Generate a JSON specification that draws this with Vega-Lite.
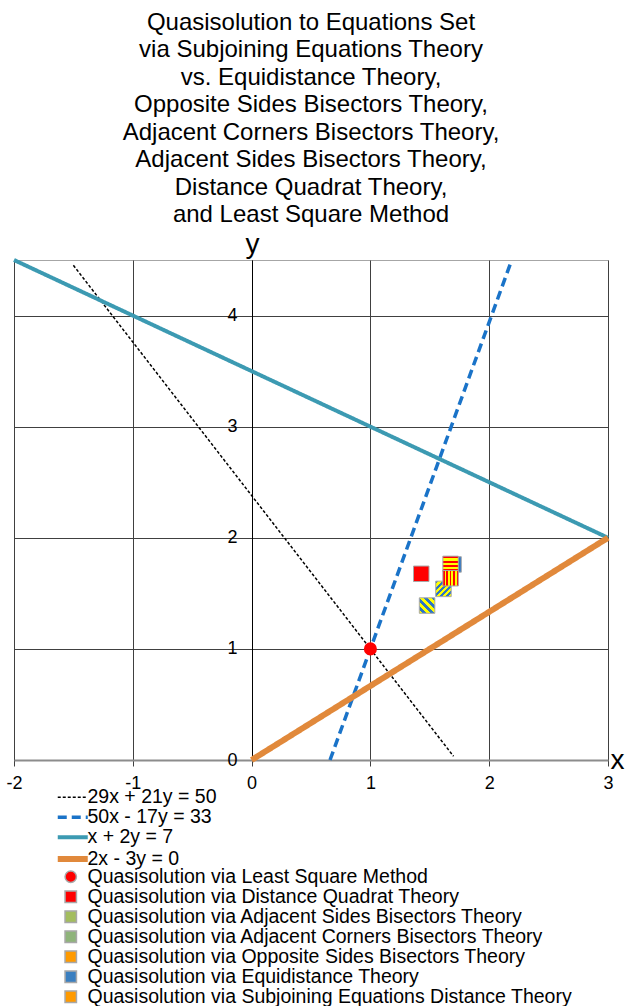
{
  "$schema": "https://vega.github.io/schema/vega-lite/v6.json",
  "width": 594,
  "height": 500,
  "autosize": {"type": "none"},
  "padding": {"left": 14, "top": 260, "right": 22, "bottom": 246},
  "background": "white",
  "title": {
    "text": ["Quasisolution to Equations Set", "via Subjoining Equations Theory", "vs. Equidistance Theory,", "Opposite Sides Bisectors Theory,", "Adjacent Corners Bisectors Theory,", "Adjacent Sides Bisectors Theory,", "Distance Quadrat Theory,", "and Least Square Method"],
    "fontSize": 24,
    "font": "Liberation Sans",
    "fontWeight": "normal",
    "lineHeight": 27.5,
    "anchor": "middle",
    "offset": 3,
    "color": "black"
  },
  "config": {
    "font": "Liberation Sans",
    "view": {"stroke": "#a6a6a6", "strokeWidth": 1},
    "axis": {"labelFont": "Liberation Sans", "titleFont": "Liberation Sans", "labelColor": "black", "titleColor": "black", "gridColor": "#404040", "gridOpacity": 1, "gridWidth": 1, "titleFontWeight": "normal"},
    "legend": {"labelFont": "Liberation Sans", "labelColor": "black", "labelFontSize": 19.5, "padding": 0, "labelLimit": 600}
  },
  "datasets": {
    "lines": [
      {"series": "29x + 21y = 50", "x": -1.5, "y": 4.452},
      {"series": "29x + 21y = 50", "x": 1.7, "y": 0.033},
      {"series": "50x - 17y = 33", "x": 0.66, "y": 0.0},
      {"series": "50x - 17y = 33", "x": 2.19, "y": 4.5},
      {"series": "x + 2y = 7", "x": -2, "y": 4.5},
      {"series": "x + 2y = 7", "x": 3, "y": 2},
      {"series": "2x - 3y = 0", "x": 0, "y": 0},
      {"series": "2x - 3y = 0", "x": 3, "y": 2}
    ],
    "points": [
      {"method": "Quasisolution via Least Square Method", "x": 1.0, "y": 1.0},
      {"method": "Quasisolution via Distance Quadrat Theory", "x": 1.428, "y": 1.676},
      {"method": "Quasisolution via Adjacent Sides Bisectors Theory", "x": 1.477, "y": 1.39},
      {"method": "Quasisolution via Adjacent Corners Bisectors Theory", "x": 1.615, "y": 1.54},
      {"method": "Quasisolution via Equidistance Theory", "x": 1.70, "y": 1.76},
      {"method": "Quasisolution via Subjoining Equations Distance Theory", "x": 1.675, "y": 1.765},
      {"method": "Quasisolution via Opposite Sides Bisectors Theory", "x": 1.675, "y": 1.636}
    ]
  },
  "layer": [
    {
      "data": {"name": "lines"},
      "mark": {"type": "line"},
      "encoding": {
        "x": {
          "field": "x", "type": "quantitative",
          "scale": {"domain": [-2, 3], "nice": false, "zero": false},
          "axis": {"values": [-2, -1, 0, 1, 2, 3], "labelExpr": "'' + datum.value", "title": "x", "titleX": 596, "titleY": 8, "titleAlign": "left", "titleBaseline": "alphabetic", "titleFontSize": 28, "titleAngle": 0, "labelFontSize": 18, "labelPadding": 8, "tickColor": "#404040", "tickSize": 6, "domainColor": "#8c8c8c", "domainWidth": 2, "grid": true, "labelFlush": false}
        },
        "y": {
          "field": "y", "type": "quantitative",
          "scale": {"domain": [0, 4.5], "nice": false, "zero": false},
          "axis": {"values": [0, 1, 2, 3, 4], "labelExpr": "'' + datum.value", "offset": -238, "title": "y", "titleAngle": 0, "titleX": 0, "titleY": -8, "titleAlign": "center", "titleBaseline": "alphabetic", "titleFontSize": 28, "ticks": false, "labelPadding": 15, "labelFontSize": 18, "domainColor": "black", "grid": true, "labelFlush": false}
        },
        "stroke": {
          "field": "series", "type": "nominal",
          "scale": {"domain": ["29x + 21y = 50", "50x - 17y = 33", "x + 2y = 7", "2x - 3y = 0"], "range": ["#000000", "#1a73c8", "#3c9ab2", "#e1893b"]},
          "legend": {"orient": "none", "legendX": 49, "legendY": 527.5, "title": null, "symbolType": "M-3,0H3", "symbolSize": 100, "labelOffset": 5, "rowPadding": -1.3}
        },
        "strokeDash": {
          "field": "series", "type": "nominal",
          "scale": {"domain": ["29x + 21y = 50", "50x - 17y = 33", "x + 2y = 7", "2x - 3y = 0"], "range": [[3, 2], [9, 5], [1, 0], [1, 0]]}
        },
        "strokeWidth": {
          "field": "series", "type": "nominal",
          "scale": {"type": "ordinal", "domain": ["29x + 21y = 50", "50x - 17y = 33", "x + 2y = 7", "2x - 3y = 0"], "range": [1.5, 3.5, 4, 6]}
        }
      }
    },
    {
      "data": {"name": "points"},
      "transform": [{"filter": "datum.method !== 'Quasisolution via Least Square Method'"}],
      "mark": {"type": "point", "filled": true, "opacity": 1, "size": 240, "stroke": "#a8a8a8", "strokeWidth": 1},
      "encoding": {
        "x": {"field": "x", "type": "quantitative"},
        "y": {"field": "y", "type": "quantitative"},
        "fill": {
          "field": "method", "type": "nominal",
          "scale": {
            "domain": ["Quasisolution via Least Square Method", "Quasisolution via Distance Quadrat Theory", "Quasisolution via Adjacent Sides Bisectors Theory", "Quasisolution via Adjacent Corners Bisectors Theory", "Quasisolution via Opposite Sides Bisectors Theory", "Quasisolution via Equidistance Theory", "Quasisolution via Subjoining Equations Distance Theory"],
            "range": ["#ff0000", "#ff0000", "#a3bd5e", "#8fb47a", "#ff9a00", "#3a7fc0", "#ff9a00"]
          },
          "legend": null,
          "condition": [
            {"test": "datum.method === 'Quasisolution via Adjacent Sides Bisectors Theory'", "value": {"gradient": "linear", "x1": 0, "y1": 1, "x2": 1, "y2": 0, "stops": [
                {"offset": 0, "color": "#ffff00"}, {"offset": 0.125, "color": "#ffff00"}, {"offset": 0.125, "color": "#2e75c4"}, {"offset": 0.25, "color": "#2e75c4"},
                {"offset": 0.25, "color": "#ffff00"}, {"offset": 0.375, "color": "#ffff00"}, {"offset": 0.375, "color": "#2e75c4"}, {"offset": 0.5, "color": "#2e75c4"},
                {"offset": 0.5, "color": "#ffff00"}, {"offset": 0.625, "color": "#ffff00"}, {"offset": 0.625, "color": "#2e75c4"}, {"offset": 0.75, "color": "#2e75c4"},
                {"offset": 0.75, "color": "#ffff00"}, {"offset": 0.875, "color": "#ffff00"}, {"offset": 0.875, "color": "#2e75c4"}, {"offset": 1, "color": "#2e75c4"}]}},
            {"test": "datum.method === 'Quasisolution via Adjacent Corners Bisectors Theory'", "value": {"gradient": "linear", "x1": 0, "y1": 0, "x2": 1, "y2": 1, "stops": [
                {"offset": 0, "color": "#2e75c4"}, {"offset": 0.1, "color": "#2e75c4"}, {"offset": 0.1, "color": "#ffff00"}, {"offset": 0.2, "color": "#ffff00"},
                {"offset": 0.2, "color": "#2e75c4"}, {"offset": 0.3, "color": "#2e75c4"}, {"offset": 0.3, "color": "#ffff00"}, {"offset": 0.4, "color": "#ffff00"},
                {"offset": 0.4, "color": "#2e75c4"}, {"offset": 0.5, "color": "#2e75c4"}, {"offset": 0.5, "color": "#ffff00"}, {"offset": 0.6, "color": "#ffff00"},
                {"offset": 0.6, "color": "#2e75c4"}, {"offset": 0.7, "color": "#2e75c4"}, {"offset": 0.7, "color": "#ffff00"}, {"offset": 0.8, "color": "#ffff00"},
                {"offset": 0.8, "color": "#2e75c4"}, {"offset": 0.9, "color": "#2e75c4"}, {"offset": 0.9, "color": "#ffff00"}, {"offset": 1, "color": "#ffff00"}]}},
            {"test": "datum.method === 'Quasisolution via Opposite Sides Bisectors Theory'", "value": {"gradient": "linear", "x1": 0, "y1": 0.5, "x2": 1, "y2": 0.5, "stops": [
                {"offset": 0, "color": "#ff0000"}, {"offset": 0.111, "color": "#ff0000"}, {"offset": 0.111, "color": "#ffff00"}, {"offset": 0.222, "color": "#ffff00"},
                {"offset": 0.222, "color": "#ff0000"}, {"offset": 0.333, "color": "#ff0000"}, {"offset": 0.333, "color": "#ffff00"}, {"offset": 0.444, "color": "#ffff00"},
                {"offset": 0.444, "color": "#ff0000"}, {"offset": 0.556, "color": "#ff0000"}, {"offset": 0.556, "color": "#ffff00"}, {"offset": 0.667, "color": "#ffff00"},
                {"offset": 0.667, "color": "#ff0000"}, {"offset": 0.778, "color": "#ff0000"}, {"offset": 0.778, "color": "#ffff00"}, {"offset": 0.889, "color": "#ffff00"},
                {"offset": 0.889, "color": "#ff0000"}, {"offset": 1, "color": "#ff0000"}]}},
            {"test": "datum.method === 'Quasisolution via Equidistance Theory'", "value": {"gradient": "linear", "x1": 0, "y1": 0.5, "x2": 1, "y2": 0.5, "stops": [
                {"offset": 0, "color": "#2e75c4"}, {"offset": 0.2, "color": "#2e75c4"}, {"offset": 0.2, "color": "#ffff00"}, {"offset": 0.32, "color": "#ffff00"},
                {"offset": 0.32, "color": "#2e75c4"}, {"offset": 0.68, "color": "#2e75c4"}, {"offset": 0.68, "color": "#ffff00"}, {"offset": 0.8, "color": "#ffff00"},
                {"offset": 0.8, "color": "#2e75c4"}, {"offset": 1, "color": "#2e75c4"}]}},
            {"test": "datum.method === 'Quasisolution via Subjoining Equations Distance Theory'", "value": {"gradient": "linear", "x1": 0.5, "y1": 0, "x2": 0.5, "y2": 1, "stops": [
                {"offset": 0, "color": "#ff0000"}, {"offset": 0.143, "color": "#ff0000"}, {"offset": 0.143, "color": "#ffff00"}, {"offset": 0.286, "color": "#ffff00"},
                {"offset": 0.286, "color": "#ff0000"}, {"offset": 0.429, "color": "#ff0000"}, {"offset": 0.429, "color": "#ffff00"}, {"offset": 0.571, "color": "#ffff00"},
                {"offset": 0.571, "color": "#ff0000"}, {"offset": 0.714, "color": "#ff0000"}, {"offset": 0.714, "color": "#ffff00"}, {"offset": 0.857, "color": "#ffff00"},
                {"offset": 0.857, "color": "#ff0000"}, {"offset": 1, "color": "#ff0000"}]}}
          ]
        },
        "shape": {
          "field": "method", "type": "nominal",
          "scale": {
            "domain": ["Quasisolution via Least Square Method", "Quasisolution via Distance Quadrat Theory", "Quasisolution via Adjacent Sides Bisectors Theory", "Quasisolution via Adjacent Corners Bisectors Theory", "Quasisolution via Opposite Sides Bisectors Theory", "Quasisolution via Equidistance Theory", "Quasisolution via Subjoining Equations Distance Theory"],
            "range": ["circle", "square", "square", "square", "square", "square", "square"]
          },
          "legend": {"orient": "none", "legendX": 47, "legendY": 607, "title": null, "symbolSize": 130, "labelOffset": 7, "rowPadding": -2.2}
        }
      }
    },
    {
      "data": {"name": "points"},
      "transform": [{"filter": "datum.method === 'Quasisolution via Least Square Method'"}],
      "mark": {"type": "point", "filled": true, "opacity": 1, "size": 170},
      "encoding": {
        "x": {"field": "x", "type": "quantitative"},
        "y": {"field": "y", "type": "quantitative"},
        "fill": {"field": "method", "type": "nominal", "legend": null},
        "shape": {"field": "method", "type": "nominal"}
      }
    }
  ]
}
